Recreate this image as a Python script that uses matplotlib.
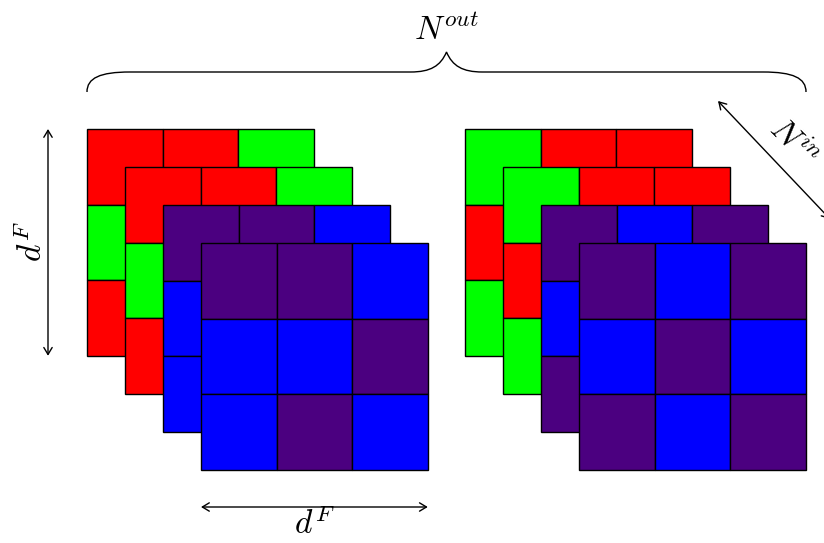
import matplotlib.pyplot as plt
from matplotlib.patches import Rectangle, PathPatch
from matplotlib.path import Path

plt.rcParams['mathtext.fontset'] = 'cm'

# colour codes per cell, layers listed back to front, rows top to bottom
COLORS = {"R": "#ff0000", "G": "#00ff00", "B": "#0000ff", "P": "#4b0080"}

left_layers = [
    ["RRG", "GRR", "RGR"],
    ["RRG", "GRR", "RGR"],
    ["PPB", "BPB", "BBP"],
    ["PPB", "BBP", "BPB"],
]
right_layers = [
    ["GRR", "RGR", "GRG"],
    ["GRR", "RGR", "GRG"],
    ["PBP", "BPB", "PBP"],
    ["PBP", "BPB", "PBP"],
]

cell = 75.6
shift = 38.0
origins = [(87, 129), (465, 129)]

fig = plt.figure(figsize=(8.24, 5.43), dpi=100)
ax = fig.add_axes([0, 0, 1, 1])
ax.set_xlim(0, 824)
ax.set_ylim(543, 0)
ax.axis('off')


def draw_stack(layers, x0, y0):
    for k, layer in enumerate(layers):
        lx = x0 + k * shift
        ly = y0 + k * shift
        for r, row in enumerate(layer):
            for c, code in enumerate(row):
                ax.add_patch(Rectangle((lx + c * cell, ly + r * cell), cell, cell,
                                       facecolor=COLORS[code], edgecolor='black',
                                       linewidth=1.0, zorder=2 + k))


draw_stack(left_layers, *origins[0])
draw_stack(right_layers, *origins[1])

arrow = dict(arrowstyle='<->,head_length=0.5,head_width=0.3', color='black',
             lw=1.0, shrinkA=0, shrinkB=0)

# left height arrow
ax.annotate('', xy=(48, 129), xytext=(48, 129 + 3 * cell), arrowprops=arrow)
ax.text(33, 242, r'$d^F$', fontsize=24, rotation=90, ha='center', va='center')

# bottom width arrow
bx0 = origins[0][0] + 3 * shift
ax.annotate('', xy=(bx0, 507), xytext=(bx0 + 3 * cell, 507), arrowprops=arrow)
ax.text(bx0 + 1.5 * cell, 541, r'$d^F$', fontsize=24, ha='center', va='bottom')

# diagonal N_in arrow
ax.annotate('', xy=(718, 101), xytext=(830, 219), arrowprops=arrow)
ax.text(793, 143, r'$N^{in}$', fontsize=24, rotation=-45, ha='center', va='center',
        rotation_mode='anchor')

# top brace
xl, xr, yb, yl, tip = 87, 806, 92, 72, 52
xm = (xl + xr) / 2
verts = [(xl, yb), (xl, 78), (100, yl), (130, yl),
         (xm - 36, yl),
         (xm - 16, yl), (xm - 6, 66), (xm, tip),
         (xm + 6, 66), (xm + 16, yl), (xm + 36, yl),
         (xr - 43, yl),
         (xr - 13, yl), (xr, 78), (xr, yb)]
codes = [Path.MOVETO, Path.CURVE4, Path.CURVE4, Path.CURVE4,
         Path.LINETO,
         Path.CURVE4, Path.CURVE4, Path.CURVE4,
         Path.CURVE4, Path.CURVE4, Path.CURVE4,
         Path.LINETO,
         Path.CURVE4, Path.CURVE4, Path.CURVE4]
ax.add_patch(PathPatch(Path(verts, codes), facecolor='none', edgecolor='black', lw=1.0))
ax.text(xm, 30, r'$N^{out}$', fontsize=24, ha='center', va='center')

fig.savefig('out.png', dpi=100)
